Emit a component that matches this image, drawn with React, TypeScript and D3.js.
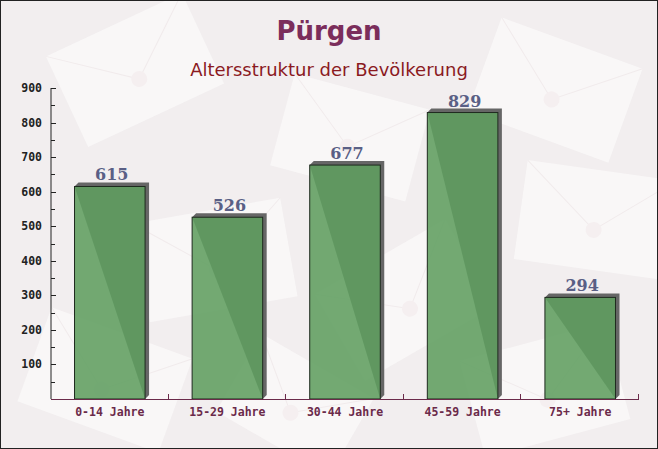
import React from "react";
import * as d3 from "d3";

const categories = ["0-14 Jahre", "15-29 Jahre", "30-44 Jahre", "45-59 Jahre", "75+ Jahre"];
const values = [615, 526, 677, 829, 294];
const yTicks = [100, 200, 300, 400, 500, 600, 700, 800, 900];
const title = "Pürgen";
const subtitle = "Altersstruktur der Bevölkerung";

const W = 658, H = 449;
const left = 51, right = 639, top = 88, bottom = 399;

const bgShapes = [
  { x: 60, y: 20, w: 150, h: 100, r: -25 },
  { x: 280, y: 90, w: 140, h: 95, r: 15 },
  { x: 480, y: 40, w: 150, h: 100, r: 20 },
  { x: 140, y: 210, w: 150, h: 100, r: -10 },
  { x: 520, y: 170, w: 150, h: 100, r: 8 },
  { x: 330, y: 250, w: 150, h: 100, r: -30 },
  { x: 30, y: 330, w: 150, h: 100, r: 20 },
  { x: 470, y: 340, w: 150, h: 100, r: -15 },
  { x: 230, y: 360, w: 130, h: 90, r: 30 },
];

export default function App() {
  const x = d3.scaleBand<string>().domain(categories).range([left, right]).paddingInner(0.4).paddingOuter(0.2);
  const y = d3.scaleLinear().domain([0, 900]).range([bottom, top]);
  const minor = d3.range(50, 900, 100);
  const bw = x.bandwidth();
  const step = x.step();
  const boundaries = categories.map((c, i) => left + step * (i + 1));
  return (
    <svg width={W} height={H} style={{ display: "block", position: "absolute", left: 0, top: 0 }}>
      <rect x={0} y={0} width={W} height={H} fill="#f2eeef" />
      {bgShapes.map((s, i) => (
        <g key={i} transform={`translate(${s.x + s.w / 2},${s.y + s.h / 2}) rotate(${s.r})`}>
          <rect x={-s.w / 2} y={-s.h / 2} width={s.w} height={s.h} fill="#fbf9f9" opacity={0.75} />
          <path d={`M${-s.w / 2},${-s.h / 2} L0,${s.h * 0.1} L${s.w / 2},${-s.h / 2}`} fill="none" stroke="#f1ebec" strokeWidth={1} />
          <circle cx={0} cy={s.h * 0.1} r={8} fill="#f5eff0" />
        </g>
      ))}
      <rect x={0.5} y={0.5} width={W - 1} height={H - 1} fill="none" stroke="#222" strokeWidth={1} />
      <text x={W / 2} y={40} textAnchor="middle" fontFamily="DejaVu Sans" fontWeight="bold" fontSize={26} fill="#7b2d5b">{title}</text>
      <text x={W / 2} y={76} textAnchor="middle" fontFamily="DejaVu Sans" fontSize={18} fill="#8b1a1f">{subtitle}</text>
      {categories.map((c, i) => {
        const bx = x(c)!;
        const by = y(values[i]);
        const d = 4;
        return (
          <g key={c}>
            <path d={`M${bx},${by} L${bx + d},${by - d} L${bx + bw + d},${by - d} L${bx + bw + d},${bottom - d} L${bx + bw},${bottom} Z`} fill="#666" />
            <rect x={bx} y={by} width={bw} height={bottom - by} fill="#609e60" fillOpacity={0.88} stroke="#1e2a1e" strokeWidth={1} />
            <text x={bx + bw / 2 + 2} y={by - 6} textAnchor="middle" fontFamily="DejaVu Serif" fontWeight="bold" fontSize={16} fill="#5a5f85">{values[i]}</text>
            <text x={bx + bw / 2} y={416} textAnchor="middle" fontFamily="DejaVu Sans Mono" fontWeight="bold" fontSize={11.5} fill="#6b2a4a">{c}</text>
          </g>
        );
      })}
      <line x1={left} x2={left} y1={top} y2={bottom} stroke="#222" />
      <line x1={left} x2={right} y1={bottom + 0.5} y2={bottom + 0.5} stroke="#6b2a4a" />
      {yTicks.map(t => (
        <g key={t}>
          <line x1={left} x2={left + 5} y1={Math.round(y(t)) + 0.5} y2={Math.round(y(t)) + 0.5} stroke="#222" />
          <text x={42} y={y(t) + 4} textAnchor="end" fontFamily="DejaVu Sans Mono" fontWeight="bold" fontSize={11.5} fill="#222">{t}</text>
        </g>
      ))}
      {minor.map(t => (
        <line key={t} x1={left} x2={left + 4} y1={Math.round(y(t)) + 0.5} y2={Math.round(y(t)) + 0.5} stroke="#222" />
      ))}
      {boundaries.map((b, i) => (
        <line key={i} x1={Math.round(b) - 0.5} x2={Math.round(b) - 0.5} y1={bottom} y2={bottom - 5} stroke="#6b2a4a" />
      ))}
    </svg>
  );
}
